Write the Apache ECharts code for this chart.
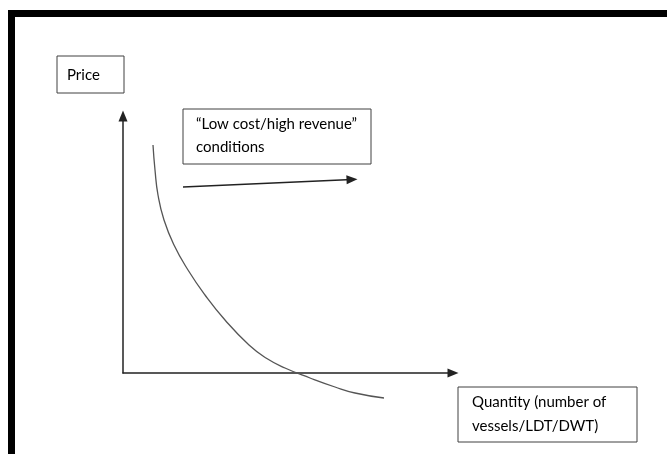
<!DOCTYPE html>
<html>
<head>
<meta charset="utf-8">
<script src="https://cdn.jsdelivr.net/npm/echarts@6/dist/echarts.min.js"></script>
<style>
html,body{margin:0;padding:0;background:#fff;}
#chart{width:671px;height:454px;}
</style>
</head>
<body>
<div id="chart"></div>
<script>
// axis ranges (arbitrary units)
var xMax = 330;
var yMax = 257;
// demand-like curve
var curveX = [30, 32, 35, 41, 51, 65, 82, 102, 126, 143, 162, 187, 212, 232, 261];
var curveY = [228, 203, 178, 153, 128, 103, 78, 53, 28, 15, 5, -5, -14, -20, -25];
// "conditions" arrow, start and end
var trendStart = [60, 186];
var trendEnd = [229, 193.5];
// texts
var yName = 'Price';
var xNameLines = ['Quantity (number of', 'vessels/LDT/DWT)'];
var noteLines = ['\u201cLow cost/high revenue\u201d', 'conditions'];

var font = 'Lato, "Open Sans", sans-serif';

var curveData = curveX.map(function(x, i){ return [x, curveY[i]]; });

function box(x, y, w, h, lines, tx, ty, lh){
	return {
		type: 'group',
		children: [
			{type: 'rect', shape: {x: x, y: y, width: w, height: h},
				style: {fill: '#fff', stroke: '#404040', lineWidth: 1}},
			{type: 'text', x: tx, y: ty,
				style: {text: lines.join('\n'), fill: '#000', font: '15px ' + font,
					lineHeight: lh, verticalAlign: 'top'}}
		]
	};
}

var myChart = echarts.init(document.getElementById('chart'));
var axisLine = {
	show: true,
	symbol: ['none', 'triangle'],
	symbolSize: [9, 11],
	lineStyle: {color: '#222', width: 1.5}
};
var option = {
	animation: false,
	backgroundColor: '#fff',
	grid: {left: 123, top: 116, width: 330, height: 257},
	xAxis: {
		type: 'value', min: 0, max: xMax,
		axisLine: axisLine,
		axisTick: {show: false}, axisLabel: {show: false}, splitLine: {show: false}
	},
	yAxis: {
		type: 'value', min: 0, max: yMax,
		axisLine: axisLine,
		axisTick: {show: false}, axisLabel: {show: false}, splitLine: {show: false}
	},
	series: [{
		type: 'line',
		data: curveData,
		smooth: 0.5,
		showSymbol: false,
		clip: false,
		silent: true,
		lineStyle: {color: '#555', width: 1.3},
		markLine: {
			silent: true,
			symbol: ['none', 'triangle'],
			symbolSize: [9, 11],
			label: {show: false},
			lineStyle: {type: 'solid', color: '#222', width: 1.5},
			data: [[{coord: trendStart}, {coord: trendEnd}]]
		}
	}],
	graphic: [
		// frame
		{type: 'rect', shape: {x: 8, y: 10, width: 659, height: 7}, style: {fill: '#000'}},
		{type: 'rect', shape: {x: 8, y: 10, width: 7, height: 444}, style: {fill: '#000'}},
		box(57, 56, 67, 37, [yName], 67, 65, 20),
		box(183, 109, 188, 55, noteLines, 196, 113, 23),
		box(458, 387, 179, 55, xNameLines, 472, 390, 24)
	]
};
myChart.setOption(option);
</script>
</body>
</html>
